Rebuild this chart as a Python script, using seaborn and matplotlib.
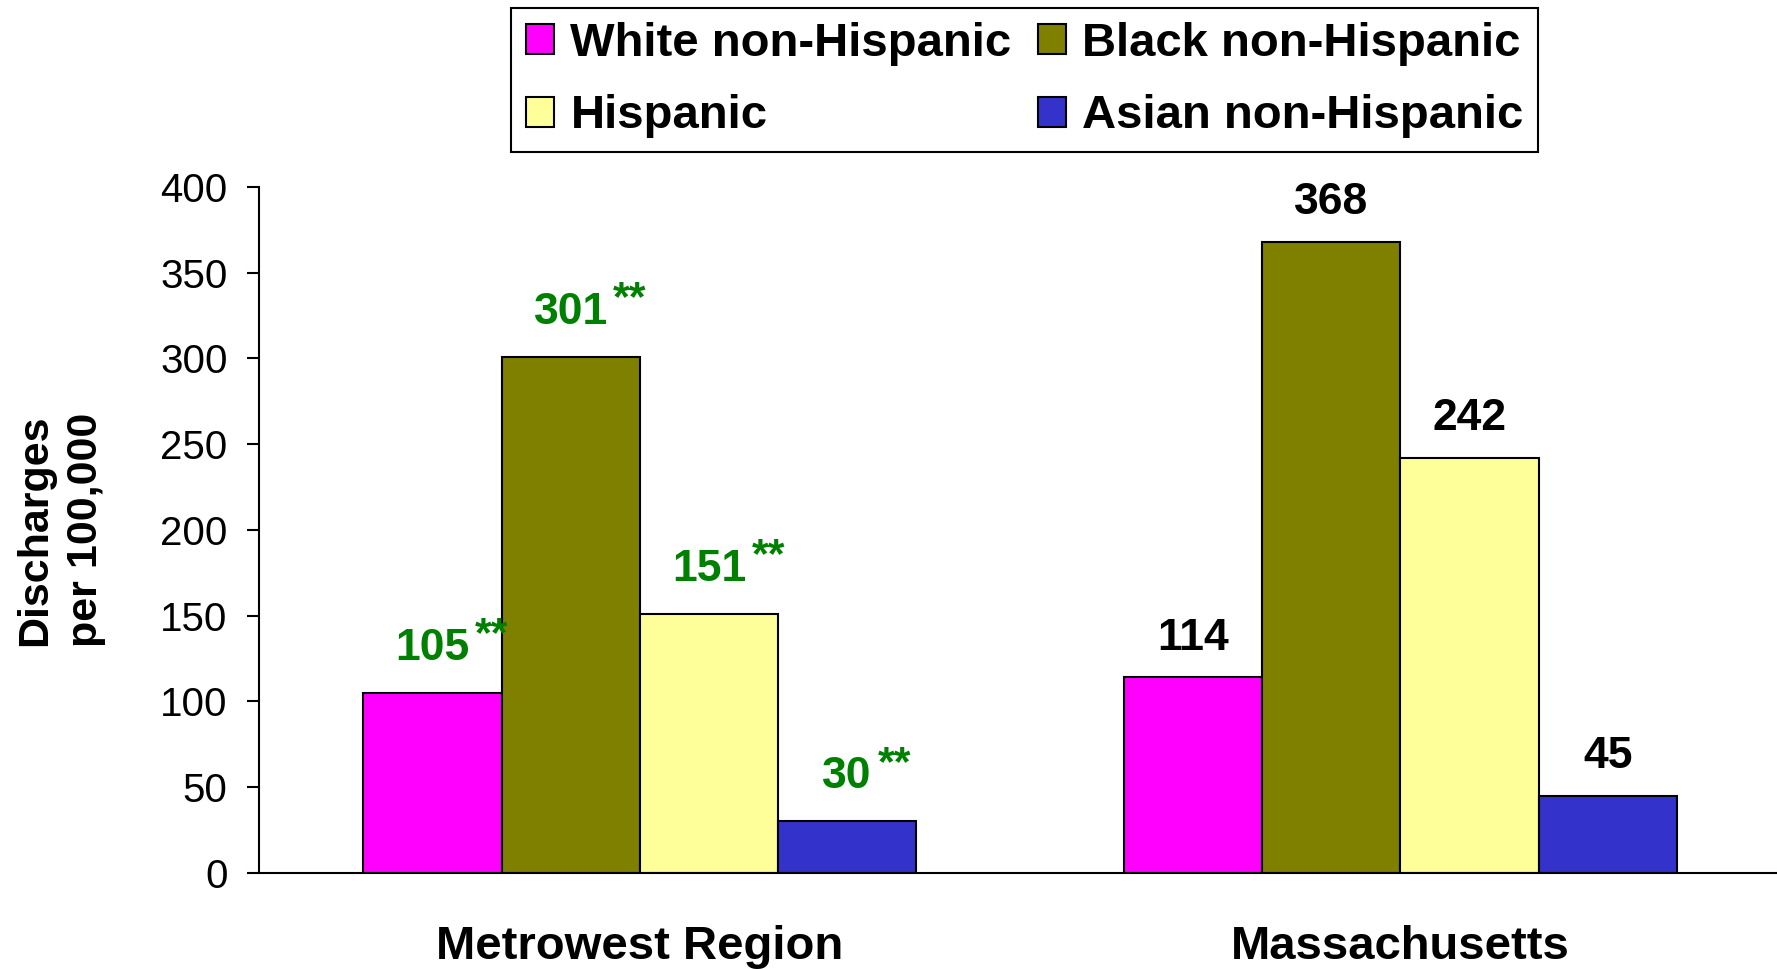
import pandas as pd
import matplotlib.pyplot as plt
import seaborn as sns

# data
regions = ['Metrowest Region', 'Massachusetts']
groups = ['White non-Hispanic', 'Black non-Hispanic', 'Hispanic', 'Asian non-Hispanic']
metrowest = [105, 301, 151, 30]
massachusetts = [114, 368, 242, 45]
metrowest_marks = ['**', '**', '**', '**']
massachusetts_marks = ['', '', '', '']
colors = ['#FF00FF', '#808000', '#FFFF99', '#3333CC']
yticks = [0, 50, 100, 150, 200, 250, 300, 350, 400]

df = pd.DataFrame({
    'region': [regions[0]] * 4 + [regions[1]] * 4,
    'group': groups * 2,
    'value': metrowest + massachusetts,
})

sns.set_style('white', rc={'text.color': 'black', 'axes.labelcolor': 'black',
                           'xtick.color': 'black', 'ytick.color': 'black'})
plt.rcParams['font.family'] = ['Liberation Sans', 'DejaVu Sans']

fig = plt.figure(figsize=(17.77, 9.69), dpi=100)
ax = fig.add_axes([0.146, 0.0994, 0.854, 0.7076])

sns.barplot(data=df, x='region', y='value', hue='group', order=regions,
            hue_order=groups, palette=colors, saturation=1, width=0.727,
            edgecolor='black', linewidth=1.5, errorbar=None, ax=ax)

# value labels on top of bars
marks = [metrowest_marks, massachusetts_marks]
values = [metrowest, massachusetts]
for gi, bars in enumerate(ax.containers):
    for ri, bar in enumerate(bars):
        x = bar.get_x() + bar.get_width() / 2
        h = bar.get_height()
        star = marks[ri][gi]
        color = '#008000' if star else 'black'
        t = ax.annotate(str(values[ri][gi]), (x, h),
                        xytext=(0, 32 if star else 28),
                        textcoords='offset points', ha='center', va='center',
                        fontsize=32, fontweight='bold', color=color)
        if star:
            ax.annotate(star, xy=(1, 1), xycoords=t, xytext=(4, 9),
                        textcoords='offset points', ha='left', va='top',
                        fontsize=31, fontweight='bold', color=color)

# legend
handles, labels = ax.get_legend_handles_labels()
idx = [0, 2, 1, 3]
ax.legend([handles[i] for i in idx], [labels[i] for i in idx], ncol=2,
          loc='upper center', bbox_to_anchor=(0.5766, 0.992),
          bbox_transform=fig.transFigure, fancybox=False, framealpha=1,
          edgecolor='black', prop={'size': 34, 'weight': 'bold'},
          handlelength=0.6, handleheight=0.6, handletextpad=0.35,
          columnspacing=0.55, labelspacing=0.6, borderpad=0.3,
          borderaxespad=0)
ax.get_legend().get_frame().set_linewidth(1.5)

# axes
ax.set_ylim(0, 400)
ax.set_xlim(-0.5, 1.495)
ax.set_yticks(yticks)
ax.set_xlabel('')
ax.set_ylabel('Discharges\nper 100,000', fontsize=31, fontweight='bold',
              linespacing=1.35)
ax.yaxis.label.set_va('center')
ax.yaxis.set_label_coords(-0.131, 0.5)
ax.tick_params(axis='y', direction='out', length=9, width=1.5, pad=14,
               labelsize=29, left=True)
ax.tick_params(axis='x', length=0, pad=38, labelsize=34)
for lab in ax.get_xticklabels():
    lab.set_fontweight('bold')

sns.despine(ax=ax)
for s in ['left', 'bottom']:
    ax.spines[s].set_linewidth(1.5)
    ax.spines[s].set_color('black')

plt.savefig('out.png', dpi=100)
